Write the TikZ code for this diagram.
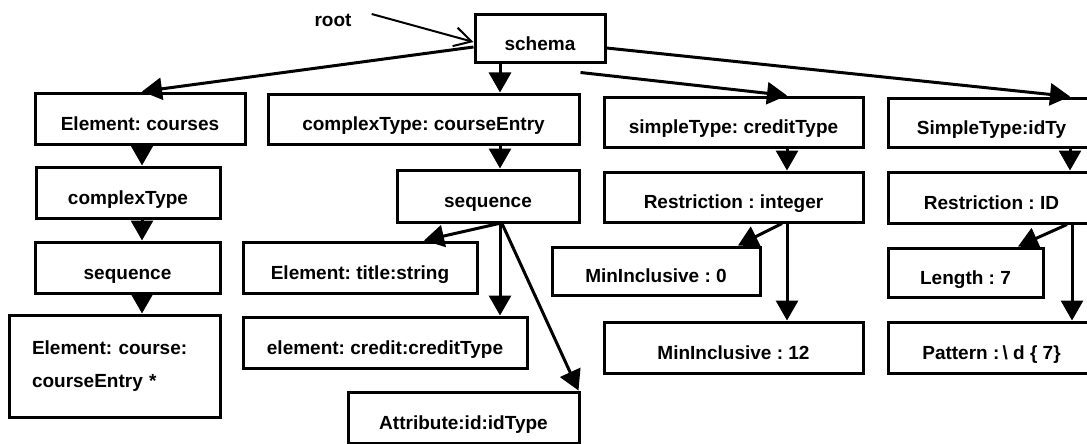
\documentclass[tikz,border=0pt]{standalone}
\usepackage{fontspec}
\setmainfont{Liberation Sans}
\usetikzlibrary{arrows.meta}
\frenchspacing
\begin{document}
\begin{tikzpicture}[x=1pt,y=-1pt,
  lbl/.style={font=\bfseries\fontsize{19pt}{22pt}\selectfont, text height=23.5pt, text depth=0pt, inner sep=0pt},
  box/.style n args={2}{lbl, draw, line width=3pt, minimum width=#1, minimum height=#2},
  tallbox/.style={draw, line width=3pt, inner sep=0pt, align=left,
    font=\bfseries\fontsize{19pt}{33pt}\selectfont},
  arr/.style={line width=3pt, -{Triangle[length=20pt,width=22pt]}},
  rootarr/.style={line width=2pt, -{Straight Barb[length=17pt,width=19pt]}}]
  \useasboundingbox (0,0) rectangle (1087,444);
  \fill[white] (0,0) rectangle (1087,444);
  \clip (0,0) rectangle (1087,444);

  % top level
  \node[lbl] (root) at (333,15) {root};
  \node[box={130pt}{48pt}] (schema) at (540,39) {schema};

  % first row
  \node[box={210pt}{51pt}] (courses) at (140,118.5) {Element: courses};
  \node[box={311pt}{50pt}] (courseEntry) at (423.5,119) {complexType: courseEntry};
  \node[box={259pt}{50pt}] (creditType) at (733.5,122) {simpleType: creditType};
  \node[box={207pt}{49pt}] (idTy) at (991.5,122.5) {SimpleType:idTy};

  % left branch
  \node[box={184pt}{51pt}] (complexType) at (128,192.5) {complexType};
  \node[box={185pt}{51pt}] (seqL) at (127.5,267.5) {sequence};
  \node[tallbox, minimum width=211pt, minimum height=102pt, text width=165pt]
    (course) at (114.5,366) {Element: course:\\courseEntry *};

  % courseEntry branch
  \node[box={182pt}{52pt}] (seqM) at (488,196) {sequence};
  \node[box={234pt}{51pt}] (title) at (360,267.5) {Element: title:string};
  \node[box={284pt}{51pt}] (credit) at (385,342.5) {element: credit:creditType};
  \node[box={231pt}{51pt}] (attr) at (463.5,417.5) {Attribute:id:idType};

  % creditType branch
  \node[box={259pt}{50pt}] (restrInt) at (733.5,197) {Restriction : integer};
  \node[box={208pt}{48pt}] (min0) at (656,271) {MinInclusive : 0};
  \node[box={259pt}{51pt}] (min12) at (733.5,347.5) {MinInclusive : 12};

  % idTy branch
  \node[box={207pt}{51pt}] (restrID) at (991.5,197.5) {Restriction : ID};
  \node[box={155pt}{49pt}] (length) at (965.5,272.5) {Length : 7};
  \node[box={207pt}{51pt}] (pattern) at (991.5,347.5) {Pattern :\,\textbackslash\ d \{ 7\}};

  % connectors
  \draw[rootarr] ([xshift=20pt,yshift=1pt]root.east) -- ([yshift=-3pt]schema.west);
  \draw[arr] ([yshift=-8pt]schema.west) -- ([xshift=2pt]courses.north);
  \draw[arr] ([xshift=-40pt]schema.south) -- ([xshift=76.5pt]courseEntry.north);
  \draw[arr] ([xshift=-26pt,yshift=-8pt]schema.south east) -- ([xshift=53.5pt]creditType.north);
  \draw[arr] ([yshift=-9pt]schema.east) -- ([xshift=78.5pt]idTy.north);

  \draw[arr] ([xshift=2pt]courses.south) -- ([xshift=14pt]complexType.north);
  \draw[arr] ([xshift=14pt]complexType.south) -- ([xshift=14.5pt]seqL.north);
  \draw[arr] ([xshift=14.5pt]seqL.south) -- ([xshift=27.5pt]course.north);

  \draw[arr] ([xshift=76.5pt]courseEntry.south) -- ([xshift=12pt]seqM.north);
  \draw[arr] ([xshift=11pt]seqM.south) -- ([xshift=64pt]title.north);
  \draw[arr] ([xshift=12pt]seqM.south) -- ([xshift=115pt]credit.north);
  \draw[arr] ([xshift=14pt]seqM.south) -- ([xshift=-2pt]attr.north east);

  \draw[arr] ([xshift=53.5pt]creditType.south) -- ([xshift=53.5pt]restrInt.north);
  \draw[arr] ([xshift=48.5pt]restrInt.south) -- ([xshift=82pt]min0.north);
  \draw[arr] ([xshift=53.5pt]restrInt.south) -- ([xshift=53.5pt]min12.north);

  \draw[arr] ([xshift=78.5pt]idTy.south) -- ([xshift=78.5pt]restrID.north);
  \draw[arr] ([xshift=75.5pt]restrID.south) -- ([xshift=52.5pt]length.north);
  \draw[arr] ([xshift=80.5pt]restrID.south) -- ([xshift=80.5pt]pattern.north);
\end{tikzpicture}
\end{document}
